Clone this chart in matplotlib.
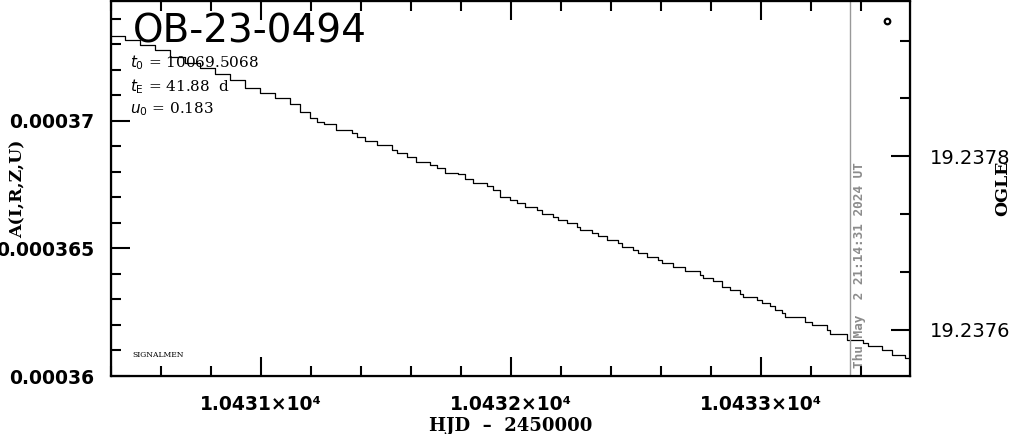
import numpy as np
import matplotlib
matplotlib.use("Agg")
import matplotlib.pyplot as plt
from matplotlib.ticker import FixedLocator, FixedFormatter, MultipleLocator

# model light curve (step points)
hjd = [10430.400, 10430.456, 10430.516, 10430.576, 10430.636, 10430.696, 10430.756,
       10430.816, 10430.876, 10430.936, 10430.996, 10431.056, 10431.116, 10431.156,
       10431.196, 10431.224, 10431.252, 10431.300, 10431.364, 10431.384, 10431.416,
       10431.464, 10431.524, 10431.544, 10431.584, 10431.620, 10431.676, 10431.704,
       10431.736, 10431.788, 10431.816, 10431.848, 10431.904, 10431.928, 10431.956,
       10431.996, 10432.024, 10432.056, 10432.104, 10432.124, 10432.168, 10432.188,
       10432.224, 10432.264, 10432.276, 10432.324, 10432.348, 10432.384, 10432.428,
       10432.444, 10432.488, 10432.508, 10432.544, 10432.588, 10432.604, 10432.648,
       10432.696, 10432.756, 10432.768, 10432.808, 10432.844, 10432.876, 10432.916,
       10432.928, 10432.984, 10433.004, 10433.036, 10433.056, 10433.084, 10433.096,
       10433.176, 10433.204, 10433.264, 10433.276, 10433.344, 10433.408, 10433.428,
       10433.484, 10433.524, 10433.576, 10433.596]
amp = [373.33, 373.18, 372.98, 372.78, 372.51, 372.27, 372.08, 371.84, 371.61, 371.29,
       371.10, 370.90, 370.67, 370.35, 370.12, 369.96, 369.88, 369.65, 369.53, 369.37,
       369.22, 369.06, 368.86, 368.75, 368.59, 368.39, 368.27, 368.16, 367.96, 367.92,
       367.73, 367.57, 367.45, 367.29, 367.02, 366.90, 366.78, 366.63, 366.51, 366.35,
       366.24, 366.12, 366.00, 365.84, 365.73, 365.61, 365.49, 365.33, 365.22, 365.06,
       364.94, 364.82, 364.67, 364.55, 364.43, 364.27, 364.12, 363.96, 363.84, 363.73,
       363.49, 363.37, 363.22, 363.10, 362.98, 362.86, 362.75, 362.59, 362.47, 362.31,
       362.12, 362.00, 361.80, 361.65, 361.41, 361.29, 361.18, 361.02, 360.82, 360.71,
       360.55]
amp = np.array(amp) * 1e-6

obs_hjd = [10433.504]
obs_amp = [0.0003739]

now_hjd = 10433.356
now_label = "Thu May  2 21:14:31 2024 UT"

xticks = [10431, 10432, 10433]
xticklabels = ["1.0431×10⁴", "1.0432×10⁴", "1.0433×10⁴"]
yticks = [0.00036, 0.000365, 0.00037]
yticklabels = ["0.00036", "0.000365", "0.00037"]
mag_ticks = [19.2376, 19.2378]
mag_labels = ["19.2376", "19.2378"]

fig = plt.figure(figsize=(10.14, 4.34), dpi=100)
ax = fig.add_axes([111 / 1014, 58 / 434, 799 / 1014, 375 / 434])

ax.plot(hjd, amp, drawstyle="steps-post", color="black", lw=0.9)
ax.plot(obs_hjd, obs_amp, "o", ms=4, mfc="white", mec="black", mew=1.6)
ax.axvline(now_hjd, color="#999999", lw=1.0)
ax.text(now_hjd + 0.012, 0.0003603, now_label, rotation=90, color="#8c8c8c",
        family="DejaVu Sans Mono", fontweight="bold", fontsize=9.2,
        ha="left", va="bottom")

ax.set_xlim(10430.4, 10433.596)
ax.set_ylim(0.00036, 0.0003747)

ax.xaxis.set_major_locator(FixedLocator(xticks))
ax.xaxis.set_major_formatter(FixedFormatter(xticklabels))
ax.xaxis.set_minor_locator(MultipleLocator(0.2))
ax.yaxis.set_major_locator(FixedLocator(yticks))
ax.yaxis.set_major_formatter(FixedFormatter(yticklabels))
ax.yaxis.set_minor_locator(MultipleLocator(1e-6))

ax.tick_params(which="both", direction="in", top=True, right=False, width=1.5)
ax.tick_params(which="major", length=14, labelsize=13.5)
ax.tick_params(axis="x", which="major", pad=14)
ax.tick_params(axis="y", which="major", pad=12)
ax.tick_params(which="minor", length=7)
for lab in ax.get_yticklabels() + ax.get_xticklabels():
    lab.set_fontweight("bold")
for s in ax.spines.values():
    s.set_linewidth(1.6)

ax.set_xlabel("HJD  –  2450000", fontsize=13, fontweight="bold",
              family="DejaVu Serif")
ax.xaxis.set_label_coords(0.5, -0.11)
ax.set_ylabel("A(I,R,Z,U)", fontsize=12.5, fontweight="bold",
              family="DejaVu Serif")
ax.yaxis.set_label_coords(-0.106, 0.5)

ax2 = ax.twinx()
ax2.set_ylim(19.237547, 19.237979)
ax2.yaxis.set_major_locator(FixedLocator(mag_ticks))
ax2.yaxis.set_major_formatter(FixedFormatter(mag_labels))
ax2.yaxis.set_minor_locator(FixedLocator([19.2376667, 19.2377333, 19.2378667, 19.2379333]))
ax2.tick_params(which="both", direction="in", width=1.5)
ax2.tick_params(which="major", length=14, labelsize=14, pad=14)
ax2.tick_params(which="minor", length=7)
ax2.set_ylabel("OGLE", fontsize=12.5, fontweight="bold", family="DejaVu Serif")
ax2.yaxis.set_label_coords(1.106, 0.5)

ax.text(0.027, 0.918, "OB-23-0494", transform=ax.transAxes, fontsize=28,
        va="center", ha="left")
ax.text(0.024, 0.835, r"$t_0$ = 10069.5068", transform=ax.transAxes,
        fontsize=11, family="DejaVu Serif", va="center")
ax.text(0.024, 0.772, r"$t_\mathrm{E}$ = 41.88  d", transform=ax.transAxes,
        fontsize=11, family="DejaVu Serif", va="center")
ax.text(0.024, 0.712, r"$u_0$ = 0.183", transform=ax.transAxes,
        fontsize=11, family="DejaVu Serif", va="center")
ax.text(0.027, 0.055, "SIGNALMEN", transform=ax.transAxes, fontsize=5.5,
        family="DejaVu Serif", va="center")

fig.savefig("out.png", dpi=100)
